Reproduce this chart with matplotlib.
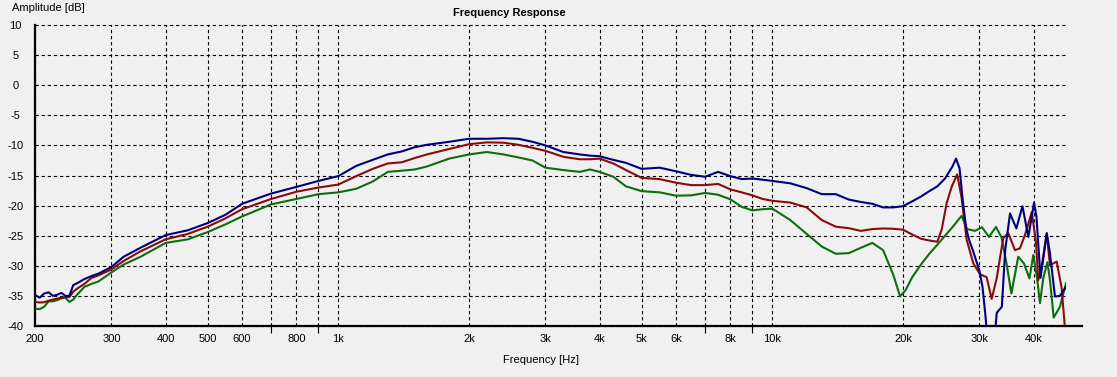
import matplotlib
matplotlib.use("Agg")
import matplotlib.pyplot as plt
from matplotlib.lines import Line2D
from matplotlib.ticker import FixedLocator, NullFormatter

plt.rcParams["font.family"] = ["Liberation Sans", "DejaVu Sans"]

# shared frequency grid for the smooth part (Hz)
freq_base = [200, 205, 210, 215, 220, 225, 230, 235, 240, 245, 250, 260, 270, 280,
             300, 320, 350, 400, 450, 500, 550, 600, 700, 800, 900, 1000, 1100,
             1200, 1300, 1400, 1500, 1600, 1800, 2000, 2200, 2400, 2600, 2800, 3000,
             3300, 3600, 3800, 4000, 4300, 4600, 5000, 5500, 6000, 6500, 7000, 7500,
             8000, 8500, 9000, 9500, 10000, 11000, 12000, 13000, 14000, 15000, 16000,
             17000, 18000]

blue_base = [-34.85, -35.3, -34.6, -34.4, -35.0, -34.8, -34.5, -35.0, -35.0, -33.2,
             -32.9, -32.2, -31.7, -31.3, -30.2, -28.5, -27.0, -24.9, -24.1, -22.9,
             -21.5, -19.7, -18.0, -16.9, -15.9, -15.1, -13.4, -12.4, -11.5, -11.0,
             -10.3, -9.9, -9.4, -8.9, -8.9, -8.8, -8.9, -9.4, -10.0, -11.1, -11.5,
             -11.7, -11.8, -12.4, -12.9, -13.9, -13.7, -14.3, -14.9, -15.2, -14.4,
             -15.1, -15.6, -15.5, -15.7, -15.9, -16.3, -17.1, -18.1, -18.1, -19.0,
             -19.4, -19.7, -20.3]
red_base = [-36.0, -36.1, -36.05, -35.8, -35.6, -35.45, -35.3, -35.2, -35.2, -34.3,
            -33.8, -33.0, -32.0, -31.6, -30.6, -29.2, -27.6, -25.6, -24.7, -23.5,
            -22.1, -20.6, -18.9, -17.7, -17.0, -16.5, -15.1, -13.9, -13.0, -12.8,
            -12.1, -11.5, -10.6, -9.8, -9.5, -9.55, -9.9, -10.4, -10.9, -11.9, -12.3,
            -12.3, -12.2, -13.0, -14.1, -15.4, -15.6, -16.2, -16.6, -16.6, -16.4,
            -17.3, -17.8, -18.3, -18.9, -19.2, -19.5, -20.3, -22.4, -23.5, -23.75,
            -24.2, -23.9, -23.8]
green_base = [-37.1, -37.2, -36.8, -35.9, -35.9, -35.7, -35.4, -35.3, -36.0, -35.6,
              -34.8, -33.5, -33.0, -32.6, -31.1, -29.8, -28.5, -26.2, -25.6, -24.4,
              -23.1, -21.8, -19.8, -18.9, -18.1, -17.8, -17.2, -16.0, -14.4, -14.2,
              -14.0, -13.5, -12.2, -11.5, -11.1, -11.5, -12.0, -12.5, -13.7, -14.1,
              -14.4, -14.0, -14.4, -15.2, -16.8, -17.6, -17.8, -18.35, -18.3, -17.9,
              -18.2, -18.95, -20.2, -20.8, -20.6, -20.5, -22.4, -24.7, -26.8, -28.0,
              -27.9, -27.0, -26.2, -27.4]

# high-frequency tails, each series sampled on its own points
blue_tail_freq = [19000, 20000, 21000, 22000, 23000, 24000, 25000, 26000, 26500,
                  27000, 27500, 28000, 28500, 29000, 30000, 30500, 31000, 31200,
                  32600, 32900, 33800, 34400, 35300, 36500, 37700, 38900, 40100,
                  40600, 41500, 42900, 43600, 44800, 46000, 47500]
blue_tail_db = [-20.3, -20.1, -19.3, -18.5, -17.6, -16.8, -15.5, -13.5, -12.2, -13.8,
                -19.5, -24.0, -26.0, -27.5, -30.8, -33.5, -38.5, -41.0, -41.0, -37.8,
                -36.8, -27.4, -21.3, -23.8, -20.1, -25.2, -19.5, -21.8, -32.0, -24.6,
                -27.8, -35.1, -35.0, -33.5]

red_tail_freq = [19000, 20000, 21000, 22000, 23000, 24000, 24560, 25220, 25890, 26660,
                 27300, 28050, 29050, 30100, 31180, 32020, 32880, 34050, 34960, 36230,
                 37200, 38200, 39610, 40520, 41000, 41760, 42870, 43630, 45210, 46420,
                 47250]
red_tail_db = [-23.85, -24.0, -24.8, -25.5, -25.8, -26.0, -24.0, -19.6, -16.9, -14.8,
               -18.7, -25.7, -29.6, -31.4, -31.9, -35.5, -32.1, -25.4, -24.55, -27.4,
               -27.1, -24.9, -21.1, -26.2, -32.4, -30.1, -24.6, -29.9, -29.3, -33.7,
               -40.5]

green_tail_freq = [19000, 19700, 20300, 21000, 22000, 23000, 24000, 25000, 26000, 26800,
                   27300, 28100, 29300, 30420, 31560, 32760, 33750, 34640, 35550, 36870,
                   38000, 39120, 39940, 40730, 41380, 42110, 43050, 43630, 44500, 46000,
                   47500]
green_tail_db = [-31.5, -35.1, -34.0, -31.9, -29.8, -28.0, -26.5, -25.0, -23.6, -22.4,
                 -21.7, -23.9, -24.2, -23.6, -25.2, -23.55, -25.3, -29.6, -34.6, -28.5,
                 -29.6, -32.1, -28.2, -32.0, -36.2, -32.0, -29.4, -32.4, -38.6, -36.8,
                 -32.9]

major_ticks = [200, 300, 400, 500, 600, 800, 1000, 2000, 3000, 4000, 5000, 6000,
               8000, 10000, 20000, 30000, 40000]
major_labels = ["200", "300", "400", "500", "600", "800", "1k", "2k", "3k", "4k",
                "5k", "6k", "8k", "10k", "20k", "30k", "40k"]
minor_ticks = [700, 900, 7000, 9000]
y_ticks = [-40, -35, -30, -25, -20, -15, -10, -5, 0, 5, 10]

bg = "#F0F0F0"
W, H = 1117, 377
fig = plt.figure(figsize=(W / 100, H / 100), dpi=100, facecolor=bg)
left, right, top, bottom = 35, 1066, 25, 326
ax = fig.add_axes([left / W, 1 - bottom / H, (right - left) / W, (bottom - top) / H])
ax.set_facecolor(bg)

series = [
    (freq_base + green_tail_freq, green_base + green_tail_db, "#0C6E0C"),
    (freq_base + red_tail_freq, red_base + red_tail_db, "#8B0A0A"),
    (freq_base + blue_tail_freq, blue_base + blue_tail_db, "#00007F"),
]
for f, db, color in series:
    ax.plot(f, db, color=color, linewidth=1.5, zorder=3)

ax.set_xscale("log")
ax.set_xlim(200, 47500)
ax.set_ylim(-40, 10)

ax.set_xticks(major_ticks, major_labels)
ax.xaxis.set_minor_locator(FixedLocator(minor_ticks))
ax.xaxis.set_minor_formatter(NullFormatter())
ax.tick_params(axis="x", which="major", length=0, pad=6, labelsize=8)
ax.tick_params(axis="x", which="minor", length=5, width=0.8, direction="out",
               color="black")

ax.set_yticks(y_ticks, [str(v) for v in y_ticks])
ax.tick_params(axis="y", length=0, pad=14, labelsize=8)
for lab in ax.get_yticklabels():
    lab.set_horizontalalignment("center")

grid_style = dict(color="black", linestyle=(0, (3, 2.5)), linewidth=0.8)
ax.grid(True, which="both", axis="x", **grid_style)
ax.grid(True, which="major", axis="y", **grid_style)
ax.set_axisbelow(True)
for line in ax.get_ygridlines():
    line.set_clip_on(False)

for side in ["top", "right", "bottom"]:
    ax.spines[side].set_visible(False)
ax.spines["left"].set_linewidth(1.6)
ax.spines["left"].set_color("black")

# bottom axis line runs a bit past the plot area
fig.add_artist(Line2D([left / W, 1082 / W], [1 - bottom / H, 1 - bottom / H],
                      transform=fig.transFigure, color="black", linewidth=1.6))

fig.text(12 / W, 1 - 8 / H, "Amplitude [dB]", ha="left", va="center", fontsize=8)
fig.text(509 / W, 1 - 12.5 / H, "Frequency Response", ha="center", va="center",
         fontsize=8, fontweight="bold")
fig.text(541 / W, 1 - 360 / H, "Frequency [Hz]", ha="center", va="center", fontsize=8)

fig.savefig("out.png", dpi=100, facecolor=bg)
